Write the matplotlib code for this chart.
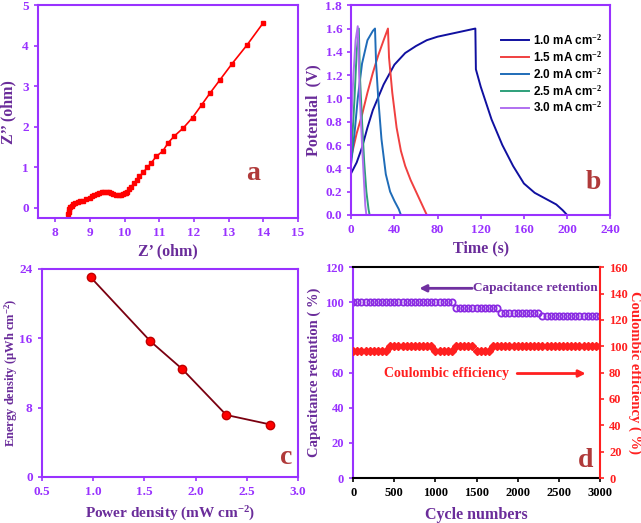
import numpy as np
import matplotlib
matplotlib.use("Agg")
import matplotlib.pyplot as plt

# ---- panel a : Nyquist plot ----
z_re = [8.38, 8.39, 8.41, 8.44, 8.48, 8.52, 8.58, 8.65, 8.72, 8.8, 8.9, 8.99, 9.06, 9.13, 9.2,
        9.27, 9.34, 9.41, 9.48, 9.55, 9.61, 9.68, 9.76, 9.83, 9.9, 9.95, 10.0, 10.04, 10.07, 10.12,
        10.19, 10.27, 10.35, 10.43, 10.54, 10.66, 10.77, 10.91, 11.1, 11.26, 11.43, 11.69, 11.96,
        12.22, 12.46, 12.75, 13.1, 13.53, 14.0]
z_im = [-0.14, -0.09, -0.03, 0.02, 0.06, 0.09, 0.12, 0.14, 0.16, 0.18, 0.22, 0.25, 0.29, 0.32, 0.35,
        0.38, 0.39, 0.40, 0.40, 0.39, 0.37, 0.35, 0.32, 0.31, 0.32, 0.34, 0.36, 0.38, 0.40, 0.46,
        0.52, 0.61, 0.69, 0.78, 0.88, 1.0, 1.11, 1.27, 1.40, 1.61, 1.77, 1.97, 2.23,
        2.54, 2.83, 3.16, 3.56, 4.02, 4.57]

# ---- panel b : GCD curves ----
gcd_labels = ["1.0 mA cm$^{-2}$", "1.5 mA cm$^{-2}$", "2.0 mA cm$^{-2}$",
              "2.5 mA cm$^{-2}$", "3.0 mA cm$^{-2}$"]
gcd_colors = ["#1010a0", "#f04040", "#1f6cb8", "#2ea07a", "#b070f0"]
t_10 = [0, 5, 10, 15, 20, 30, 40, 50, 60, 70, 80, 90, 100, 110, 115, 115.5, 120, 130, 140,
        150, 160, 170, 180, 190, 196, 200]
v_10 = [0.36, 0.45, 0.58, 0.75, 0.9, 1.12, 1.29, 1.39, 1.45, 1.5, 1.53, 1.55, 1.57, 1.59, 1.6,
        1.25, 1.1, 0.82, 0.6, 0.42, 0.27, 0.19, 0.14, 0.09, 0.04, 0.0]
t_15 = [0, 5, 10, 15, 20, 25, 30, 34, 35, 38, 42, 46, 50, 55, 60, 65, 70]
v_15 = [0.5, 0.7, 0.86, 1.05, 1.22, 1.37, 1.5, 1.6, 1.35, 1.05, 0.75, 0.55, 0.42, 0.3, 0.2, 0.1, 0.0]
t_20 = [0, 3, 6, 10, 15, 20, 22, 23, 25, 28, 32, 36, 40, 44, 46]
v_20 = [0.45, 0.7, 1.0, 1.3, 1.5, 1.58, 1.6, 1.3, 1.0, 0.65, 0.35, 0.2, 0.12, 0.05, 0.0]
t_25 = [0, 3, 5, 7, 8, 10, 12, 14, 16, 17]
v_25 = [0.5, 1.0, 1.4, 1.6, 1.2, 0.8, 0.45, 0.2, 0.05, 0.0]
t_30 = [0, 2, 4, 6, 8, 10, 12, 13, 14]
v_30 = [0.8, 1.2, 1.5, 1.62, 1.0, 0.6, 0.25, 0.08, 0.0]

# ---- panel c : Ragone ----
power = [0.98, 1.56, 1.87, 2.30, 2.73]
energy = [23.0, 15.65, 12.45, 7.15, 6.05]

# ---- panel d : cycling ----
cycles = list(range(0, 3001, 50))
retention = ([100.0] * 25 + [97.0] * 11 + [94.0] * 10 + [92.0] * 15)
coulombic = ([96.7] * 9 + [100.0] * 11 + [96.7] * 5 + [100.0] * 5 + [96.7] * 4 + [100.0] * 27)

purple = "#9932ff"
label_purple = "#6a2c9a"
letter_col = "#b03a3a"
serif = "Liberation Serif"

plt.rcParams["font.family"] = serif
plt.rcParams["font.weight"] = "bold"
plt.rcParams["mathtext.fontset"] = "custom"
plt.rcParams["mathtext.rm"] = "Liberation Serif:bold"
plt.rcParams["mathtext.default"] = "rm"

fig = plt.figure(figsize=(6.41, 5.23), dpi=100)


def style_axes(ax, color=purple):
    for s in ax.spines.values():
        s.set_color(color)
        s.set_linewidth(1.5)
    ax.tick_params(colors=color, labelsize=9.5, width=1.2, length=3)
    for lab in ax.get_xticklabels() + ax.get_yticklabels():
        lab.set_fontweight("bold")


# a
ax1 = fig.add_axes([0.059, 0.583, 0.406, 0.407])
ax1.plot(z_re, z_im, color="red", marker="s", markersize=3.5, lw=1.2)
ax1.set_xlim(7.5, 15)
ax1.set_ylim(-0.25, 5)
ax1.set_xticks(range(8, 16))
ax1.set_yticks(range(0, 6))
style_axes(ax1)
ax1.set_xlabel("Z’ (ohm)", fontsize=11.5, color=label_purple, fontweight="bold", labelpad=3)
ax1.set_ylabel("Z’’ (ohm)", fontsize=11.5, color=label_purple, fontweight="bold", labelpad=4)
ax1.text(13.7, 0.84, "a", fontsize=20, color=letter_col, fontweight="bold", ha="center", va="center")

# b
ax2 = fig.add_axes([0.548, 0.589, 0.404, 0.401])
for t, v, lab, c in zip([t_10, t_15, t_20, t_25, t_30], [v_10, v_15, v_20, v_25, v_30],
                        gcd_labels, gcd_colors):
    ax2.plot(t, v, color=c, lw=1.4, label=lab)
ax2.set_xlim(0, 240)
ax2.set_ylim(0, 1.8)
ax2.set_xticks(range(0, 241, 40))
ax2.set_yticks(np.arange(0, 1.81, 0.2))
ax2.yaxis.set_major_formatter(matplotlib.ticker.FormatStrFormatter("%.1f"))
style_axes(ax2)
ax2.set_xlabel("Time (s)", fontsize=11.5, color=label_purple, fontweight="bold", labelpad=3)
ax2.set_ylabel("Potential  (V)", fontsize=11.5, color=label_purple, fontweight="bold", labelpad=3)
leg = ax2.legend(loc="upper right", bbox_to_anchor=(1.01, 0.92), frameon=False,
                 prop={"family": "Liberation Sans", "weight": "bold", "size": 8.5},
                 handlelength=2.4, labelspacing=0.2, handletextpad=0.3)
ax2.text(224, 0.28, "b", fontsize=20, color=letter_col, fontweight="bold", ha="center", va="center")

# c
ax3 = fig.add_axes([0.065, 0.088, 0.400, 0.398])
ax3.plot(power, energy, color="#7a0010", lw=1.3, marker="o", markersize=6,
         markerfacecolor="red", markeredgecolor="#c00000")
ax3.set_xlim(0.5, 3.0)
ax3.set_ylim(0, 24)
ax3.set_yticks([0, 8, 16, 24])
ax3.xaxis.set_major_formatter(matplotlib.ticker.FormatStrFormatter("%.1f"))
style_axes(ax3)
ax3.set_xlabel("Power density (mW cm$^{-2}$)", fontsize=11, color=label_purple, fontweight="bold",
               labelpad=5)
ax3.set_ylabel("Energy density (μWh cm$^{-2}$)", fontsize=9, color=label_purple, fontweight="bold")
ax3.yaxis.set_label_coords(-0.085, 0.5)
ax3.text(2.88, 2.2, "c", fontsize=20, color=letter_col, fontweight="bold", ha="center", va="center")

# d
ax4 = fig.add_axes([0.551, 0.086, 0.385, 0.403])
ax4.plot(cycles, retention, ls="none", marker="o", markersize=4.5, markerfacecolor="none",
         markeredgecolor="#8a2be2", markeredgewidth=1.3)
ax4.set_xlim(0, 3000)
ax4.set_ylim(0, 120)
ax4.set_xticks(range(0, 3001, 500))
ax4.set_yticks(range(0, 121, 20))
for s in ax4.spines.values():
    s.set_linewidth(1.5)
    s.set_color("black")
ax4.spines["left"].set_color(purple)
ax4.spines["right"].set_visible(False)
ax4.tick_params(axis="x", colors="black", labelsize=9, width=1.2, length=3)
ax4.tick_params(axis="y", colors=purple, labelsize=9, width=1.2, length=3)
ax4.set_xlabel("Cycle numbers", fontsize=11.5, color=label_purple, fontweight="bold", labelpad=6)
ax4.set_ylabel("Capacitance retention ( %)", fontsize=10.5, color=label_purple, fontweight="bold",
               labelpad=3)

ax5 = ax4.twinx()
ax5.plot(cycles, coulombic, ls="none", marker="D", markersize=4.5, color="#ff2020")
ax5.set_ylim(0, 160)
ax5.set_yticks(range(0, 161, 20))
for s in ax5.spines.values():
    s.set_visible(False)
ax5.spines["right"].set_visible(True)
ax5.spines["right"].set_color("#ff2020")
ax5.spines["right"].set_linewidth(1.5)
ax5.tick_params(axis="y", colors="#ff2020", labelsize=9, width=1.2, length=3)
ax5.set_ylabel("Coulombic efficiency ( %)", fontsize=10.5, color="#ff2020", fontweight="bold",
               rotation=-90, labelpad=10)

ax4.annotate("", xy=(770, 108), xytext=(1480, 108),
             arrowprops=dict(arrowstyle="-|>", color="#7030a0", lw=2, mutation_scale=10))
ax4.text(2970, 108, "Capacitance retention", fontsize=9.5, color="#7030a0", fontweight="bold",
         ha="right", va="center")
ax4.text(380, 59.5, "Coulombic efficiency", fontsize=10, color="#ff2020", fontweight="bold",
         ha="left", va="center")
ax4.annotate("", xy=(2860, 59.5), xytext=(1960, 59.5),
             arrowprops=dict(arrowstyle="-|>", color="#ff2020", lw=2, mutation_scale=10))
ax4.text(2820, 10, "d", fontsize=20, color=letter_col, fontweight="bold", ha="center", va="center")

for lab in ax4.get_xticklabels() + ax4.get_yticklabels() + ax5.get_yticklabels():
    lab.set_fontweight("bold")

fig.savefig("out.png", dpi=100)
